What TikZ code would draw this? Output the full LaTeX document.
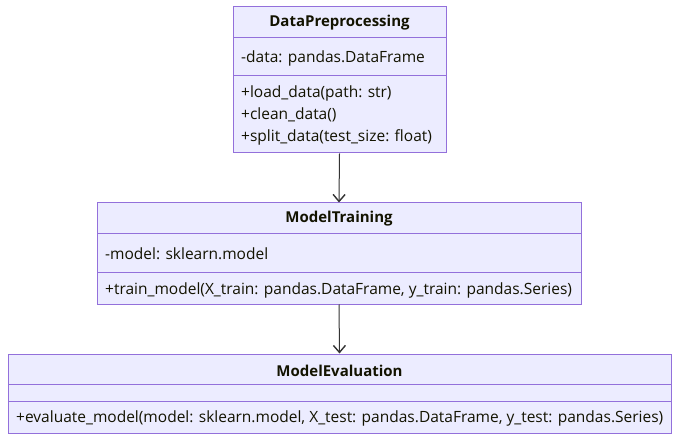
\documentclass[tikz,border=0pt]{standalone}
\usepackage{fontspec}
\setmainfont{Open Sans}
\usetikzlibrary{arrows.meta}
\definecolor{boxfill}{HTML}{ECECFF}
\definecolor{boxline}{HTML}{9370DB}
\definecolor{txt}{HTML}{131300}
\definecolor{arr}{HTML}{333333}
\begin{document}
\begin{tikzpicture}[x=1pt,y=-1pt,
  box/.style={draw=boxline, fill=boxfill, line width=1pt, inner sep=0pt},
  title/.style={font=\fontsize{15}{18}\selectfont\bfseries, text=txt, inner sep=0pt},
  member/.style={font=\fontsize{15.5}{18}\selectfont, text=txt, anchor=west, inner sep=0pt},
  sep/.style={draw=boxline, line width=1pt},
  conn/.style={draw=arr, line width=1pt, -{Straight Barb[length=7pt,width=12pt,line width=1.4pt]}}]
\useasboundingbox (0,0) rectangle (687,446);
% class 1
\node[box, minimum width=213pt, minimum height=146pt] (c1) at (339.5,80) {};
\draw[sep] (233,38) -- (446,38);
\draw[sep] (233,76) -- (446,76);
\node[title] (c1t) at (339.5,22.5) {DataPreprocessing};
\node[member] (c1a) at (241,58) {-data: pandas.DataFrame};
\node[member] (c1m1) at (241,93) {+load\_data(path: str)};
\node[member] (c1m2) at (241,115) {+clean\_data()};
\node[member] (c1m3) at (241,137) {+split\_data(test\_size: float)};
% class 2
\node[box, minimum width=484pt, minimum height=101pt] (c2) at (339,253.5) {};
\draw[sep] (97,233) -- (581,233);
\draw[sep] (97,272) -- (581,272);
\node[title] (c2t) at (339,219) {ModelTraining};
\node[member] (c2a) at (105,254) {-model: sklearn.model};
\node[member] (c2m1) at (105,290) {+train\_model(X\_train: pandas.DataFrame, y\_train: pandas.Series)};
% class 3
\node[box, minimum width=663pt, minimum height=79pt] (c3) at (339.5,393.5) {};
\draw[sep] (8,384) -- (671,384);
\draw[sep] (8,401) -- (671,401);
\node[title] (c3t) at (339.5,371) {ModelEvaluation};
\node[member] (c3m1) at (16,418) {+evaluate\_model(model: sklearn.model, X\_test: pandas.DataFrame, y\_test: pandas.Series)};
% connectors
\draw[conn] (c1.south) -- (c2.north);
\draw[conn] (c2.south) -- (c3.north);
\end{tikzpicture}
\end{document}
